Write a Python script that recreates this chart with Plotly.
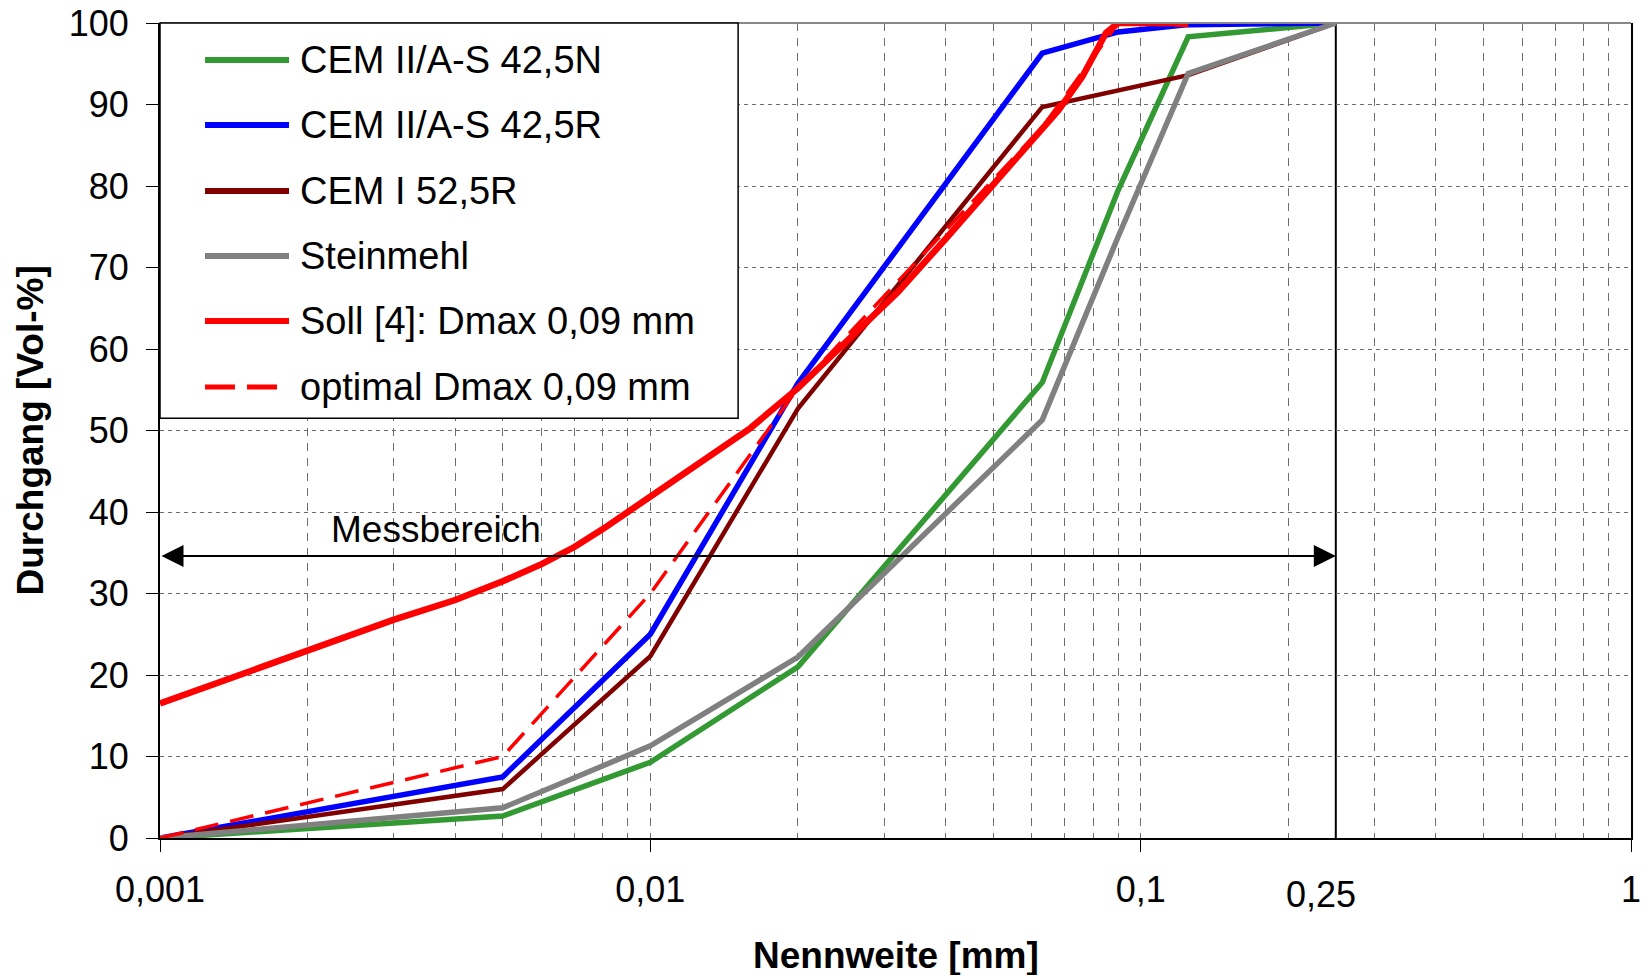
import math
import plotly.graph_objects as go

# ---------------- data ----------------
names = ["CEM II/A-S 42,5N", "CEM II/A-S 42,5R", "CEM I 52,5R", "Steinmehl",
         "Soll [4]: Dmax 0,09 mm", "optimal Dmax 0,09 mm"]
colors = ["#339933", "#0000FF", "#800000", "#808080", "#FF0000", "#FF0000"]

x_green = [0.001, 0.005, 0.01, 0.02, 0.063, 0.09, 0.125, 0.25]
y_green = [0, 2.7, 9.3, 21.0, 55.9, 79.5, 98.3, 100]

x_blue = [0.001, 0.005, 0.01, 0.02, 0.063, 0.09, 0.125, 0.25]
y_blue = [0, 7.5, 25.0, 55.8, 96.3, 98.9, 99.8, 100]

x_brown = [0.001, 0.005, 0.01, 0.02, 0.063, 0.125, 0.25]
y_brown = [0, 6.0, 22.3, 52.7, 89.7, 93.6, 100]

x_gray = [0.001, 0.005, 0.01, 0.02, 0.063, 0.09, 0.125, 0.25]
y_gray = [0, 3.7, 11.3, 22.2, 51.3, 73.8, 93.8, 100]

x_soll = [0.001, 0.002, 0.003, 0.004, 0.005, 0.006, 0.007, 0.008, 0.01,
          0.0125, 0.016, 0.02, 0.032, 0.04, 0.063, 0.068, 0.076, 0.085, 0.09, 0.125]
y_soll = [16.5, 23.0, 26.8, 29.2, 31.5, 33.6, 35.7, 37.9, 41.9,
          45.9, 50.3, 55.2, 67.0, 73.5, 86.9, 89.3, 93.4, 98.8, 100, 100]

x_opt = [0.001, 0.005, 0.01, 0.02, 0.063, 0.09, 0.125]
y_opt = [0, 10.0, 30.0, 55.2, 87.2, 100, 99.7]

x_ticks = [0.001, 0.01, 0.1, 1]
x_ticktext = ["0,001", "0,01", "0,1", "1"]
mess_min, mess_max = 0.001, 0.25
mess_level = 34.6
mess_label = "Messbereich"
x_title = "Nennweite [mm]"
y_title = "Durchgang [Vol-%]"

# ---------------- figure ----------------
FONT = "Liberation Sans, Arial, sans-serif"
FS = 37
fig = go.Figure()

series = [(x_green, y_green), (x_blue, y_blue), (x_brown, y_brown),
          (x_gray, y_gray), (x_soll, y_soll), (x_opt, y_opt)]
widths = [5.5, 5.5, 4.5, 5.5, 6.5, 3.5]
dashes = ["solid"] * 5 + ["24px,12px"]
for (xs, ys), n, c, w, d in zip(series, names, colors, widths, dashes):
    fig.add_trace(go.Scatter(x=xs, y=ys, mode="lines", name=n,
                             line=dict(color=c, width=w, dash=d),
                             showlegend=False))

grid_col = "#6e6e6e"
fig.update_xaxes(type="log", range=[-3, 0], tickmode="array",
                 tickvals=x_ticks, ticktext=x_ticktext,
                 ticks="outside", ticklen=12, tickcolor="black", tickwidth=1,
                 ticklabelstandoff=7, automargin=False,
                 showline=True, linecolor="black", linewidth=2,
                 showgrid=True, gridcolor=grid_col, gridwidth=1, griddash="8px,7px",
                 minor=dict(dtick="D1", showgrid=True, gridcolor=grid_col,
                            gridwidth=1, griddash="8px,7px", ticks=""),
                 zeroline=False,
                 tickfont=dict(family=FONT, size=36, color="black"))
fig.update_yaxes(range=[0, 100], dtick=10, ticks="outside", ticklen=12,
                 ticklabelstandoff=10, automargin=False,
                 tickcolor="black", showline=True, linecolor="black", linewidth=2,
                 mirror=True,
                 showgrid=True, gridcolor=grid_col, gridwidth=1, griddash="4px,4px",
                 zeroline=False,
                 tickfont=dict(family=FONT, size=36, color="black"))

shapes = []
# top frame edge
shapes.append(dict(type="line", xref="paper", yref="paper", x0=0, x1=1, y0=1, y1=1,
                   line=dict(color="#888888", width=2)))
# end of measuring range
shapes.append(dict(type="line", xref="x", yref="paper", x0=mess_max, x1=mess_max,
                   y0=0, y1=1, line=dict(color="black", width=2), layer="below"))

# legend box
lg_x0, lg_x1, lg_y0, lg_y1 = 0.0, 0.393, 0.515, 1.0
shapes.append(dict(type="rect", xref="paper", yref="paper", x0=lg_x0, x1=lg_x1,
                   y0=lg_y0, y1=lg_y1, line=dict(color="black", width=1.5),
                   fillcolor="white", layer="above"))
entry_y = [0.9546, 0.8748, 0.7939, 0.7141, 0.6344, 0.5534]
annotations = []
for n, c, w, d, yy in zip(names, colors, widths, dashes, entry_y):
    shapes.append(dict(type="line", xref="paper", yref="paper", x0=0.0306, x1=0.0877,
                       y0=yy, y1=yy, line=dict(color=c, width=6 if d == "solid" else 5,
                                               dash="solid" if d == "solid" else "30px,12px"),
                       layer="above"))
    annotations.append(dict(text=n, xref="paper", yref="paper", x=0.0935, y=yy,
                            xanchor="left", yanchor="middle", showarrow=False,
                            font=dict(family=FONT, size=38, color="black")))

# measuring range arrow
annotations.append(dict(text="", x=math.log10(mess_max), y=mess_level,
                        ax=math.log10(mess_min), ay=mess_level,
                        xref="x", yref="y", axref="x", ayref="y",
                        showarrow=True, arrowside="end+start", arrowhead=2,
                        startarrowhead=2, arrowsize=2.2, startarrowsize=2.2,
                        arrowwidth=2, arrowcolor="black", standoff=0, startstandoff=0))
annotations.append(dict(text=mess_label, x=math.log10(0.00366), y=37.9, xref="x", yref="y",
                        showarrow=False, xanchor="center", yanchor="middle",
                        font=dict(family=FONT, size=FS, color="black")))
# 0,25 label
annotations.append(dict(text="0,25", x=math.log10(mess_max), y=0, xref="x", yref="paper",
                        yanchor="top", xanchor="center", xshift=-15, yshift=-34,
                        showarrow=False, font=dict(family=FONT, size=36, color="black")))
# axis titles
annotations.append(dict(text="<b>" + x_title + "</b>", x=0.5, y=-0.1436, xref="paper",
                        yref="paper", xanchor="center", yanchor="middle", showarrow=False,
                        font=dict(family=FONT, size=FS, color="black")))
annotations.append(dict(text="<b>" + y_title + "</b>", x=-0.0877, y=0.5, xref="paper",
                        yref="paper", xanchor="center", yanchor="middle", showarrow=False,
                        textangle=-90, font=dict(family=FONT, size=FS, color="black")))

fig.update_layout(width=1646, height=975,
                  margin=dict(l=160, r=15, t=23, b=137),
                  paper_bgcolor="white", plot_bgcolor="white",
                  shapes=shapes, annotations=annotations, showlegend=False,
                  font=dict(family=FONT, size=FS, color="black"))

fig.write_html("out.html")
